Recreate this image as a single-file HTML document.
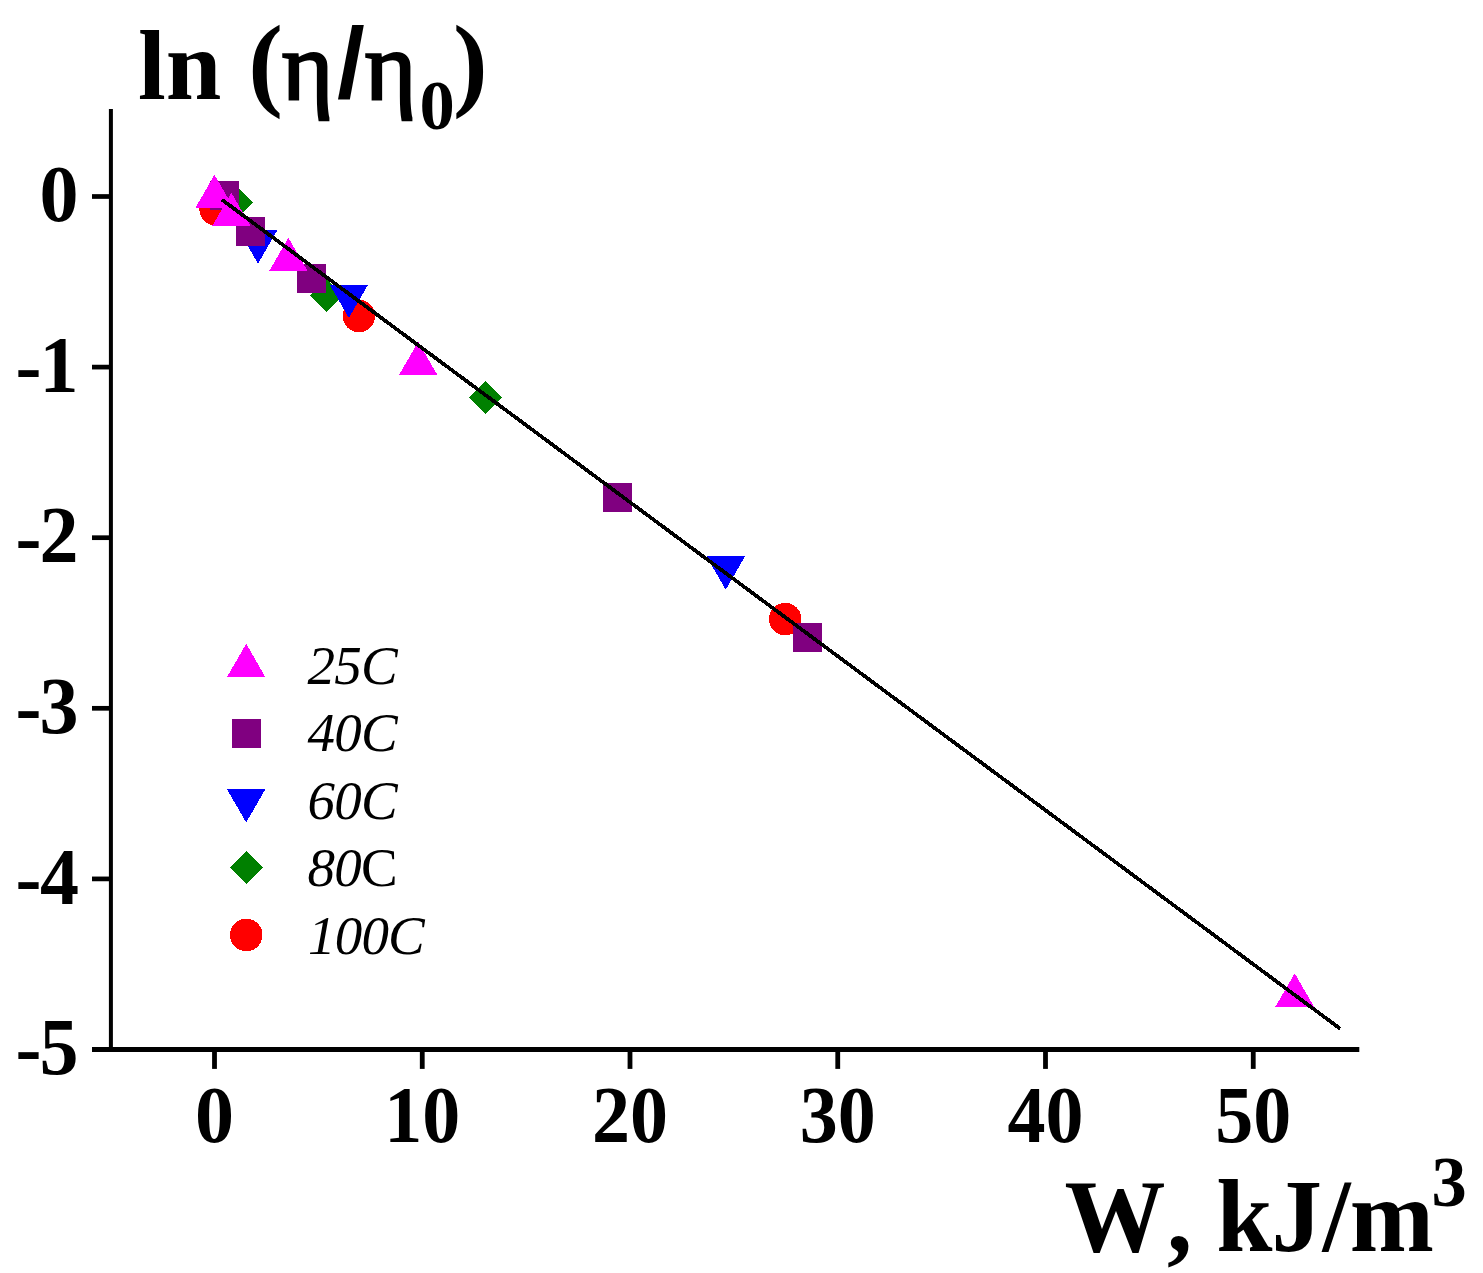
<!DOCTYPE html>
<html lang="en"><head><meta charset="utf-8"><title>ln(η/η0) vs W</title>
<style>
html,body{margin:0;padding:0;background:#fff;}
body{width:1483px;height:1273px;overflow:hidden;}
svg{display:block;}
text{font-family:"Liberation Serif","Times New Roman",serif;fill:#000;font-kerning:none;}
.b{font-weight:bold;}
.i{font-style:italic;}
</style></head><body>
<svg width="1483" height="1273" viewBox="0 0 1483 1273">
<rect width="1483" height="1273" fill="#fff"/>

<g fill="#000">
<rect x="108.9" y="109" width="4" height="942"/>
<rect x="92" y="1047" width="1267.3" height="5"/>
<rect x="92" y="194.15" width="18" height="4.7"/>
<rect x="92" y="364.75" width="18" height="4.7"/>
<rect x="92" y="535.35" width="18" height="4.7"/>
<rect x="92" y="705.95" width="18" height="4.7"/>
<rect x="92" y="876.55" width="18" height="4.7"/>
<rect x="212.10" y="1050" width="4.8" height="18.9"/>
<rect x="419.85" y="1050" width="4.8" height="18.9"/>
<rect x="627.60" y="1050" width="4.8" height="18.9"/>
<rect x="835.35" y="1050" width="4.8" height="18.9"/>
<rect x="1043.10" y="1050" width="4.8" height="18.9"/>
<rect x="1250.85" y="1050" width="4.8" height="18.9"/>
</g>
<g shape-rendering="crispEdges">
<circle cx="215.60" cy="209.30" r="16.25" fill="#ff0000"/>
<circle cx="358.90" cy="316.00" r="16.25" fill="#ff0000"/>
<circle cx="785.25" cy="619.10" r="16.25" fill="#ff0000"/>
<polygon points="236.50,185.90 253.00,202.40 236.50,218.90 220.00,202.40" fill="#008000"/>
<polygon points="326.50,278.70 343.00,295.20 326.50,311.70 310.00,295.20" fill="#008000"/>
<polygon points="485.60,381.00 502.10,397.50 485.60,414.00 469.10,397.50" fill="#008000"/>
<polygon points="238.75,230.29 277.25,230.29 258.00,263.63" fill="#0000ff"/>
<polygon points="329.65,284.59 368.15,284.59 348.90,317.93" fill="#0000ff"/>
<polygon points="706.50,556.39 745.00,556.39 725.75,589.73" fill="#0000ff"/>
<rect x="209.70" y="180.90" width="29" height="29" fill="#800080"/>
<rect x="236.10" y="216.50" width="29" height="29" fill="#800080"/>
<rect x="296.90" y="263.90" width="29" height="29" fill="#800080"/>
<rect x="603.00" y="483.00" width="29" height="29" fill="#800080"/>
<rect x="793.00" y="623.00" width="29" height="29" fill="#800080"/>
<polygon points="214.50,174.77 233.75,208.11 195.25,208.11" fill="#ff00ff"/>
<polygon points="231.40,192.77 250.65,226.11 212.15,226.11" fill="#ff00ff"/>
<polygon points="288.40,237.77 307.65,271.11 269.15,271.11" fill="#ff00ff"/>
<polygon points="418.20,341.77 437.45,375.11 398.95,375.11" fill="#ff00ff"/>
<polygon points="1294.70,973.27 1313.95,1006.61 1275.45,1006.61" fill="#ff00ff"/>
<line x1="221.8" y1="199.6" x2="1340.2" y2="1028.7" stroke="#000" stroke-width="3.7"/>
<polygon points="246.20,643.77 265.45,677.11 226.95,677.11" fill="#ff00ff"/>
<rect x="232.10" y="719.00" width="29" height="29" fill="#800080"/>
<polygon points="226.95,789.14 265.45,789.14 246.20,822.48" fill="#0000ff"/>
<polygon points="246.50,851.25 263.00,867.75 246.50,884.25 230.00,867.75" fill="#008000"/>
<circle cx="246.25" cy="935.00" r="16.25" fill="#ff0000"/>
</g>
<text class="b" x="138" y="98.7" font-size="100">ln <tspan x="248.3" y="96.6" font-size="104">(</tspan><tspan x="282" y="99" font-size="98" font-weight="normal" stroke="#000" stroke-width="2.6">η</tspan><tspan x="337" y="98" font-size="100" font-family="Liberation Sans,Arial,sans-serif">/</tspan><tspan x="365" y="99" font-size="98" font-weight="normal" stroke="#000" stroke-width="2.6">η</tspan><tspan x="419.4" y="128.8" font-size="70.5">0</tspan><tspan x="452.9" y="96.6" font-size="104">)</tspan></text>
<text class="b" transform="translate(0,1251.3) scale(1,1.02)" y="0" font-size="101" x="1064.6 1166.9 1192 1216.2 1271.4 1322.6 1349.8">W, kJ/m<tspan x="1431.6" y="-44.8" font-size="70.5">3</tspan></text>
<text class="b" transform="translate(0,221.10) scale(1,1.03)" font-size="78" x="39.6" y="0">0</text>
<text class="b" transform="translate(0,391.70) scale(1,1.03)" font-size="78" x="15.4 39.6" y="1.3 0">-1</text>
<text class="b" transform="translate(0,562.30) scale(1,1.03)" font-size="78" x="15.4 39.6" y="1.3 0">-2</text>
<text class="b" transform="translate(0,732.90) scale(1,1.03)" font-size="78" x="15.4 39.6" y="1.3 0">-3</text>
<text class="b" transform="translate(0,903.50) scale(1,1.03)" font-size="78" x="15.4 39.9" y="1.3 0">-4</text>
<text class="b" transform="translate(0,1074.10) scale(1,1.03)" font-size="78" x="15.4 39.6" y="1.3 0">-5</text>
<text class="b" transform="translate(214.50,1141.7) scale(1,1.04)" font-size="78" text-anchor="middle">0</text>
<text class="b" transform="translate(422.25,1141.7) scale(0.975,1.04)" font-size="78" text-anchor="middle">10</text>
<text class="b" transform="translate(630.00,1141.7) scale(0.975,1.04)" font-size="78" text-anchor="middle">20</text>
<text class="b" transform="translate(837.75,1141.7) scale(0.975,1.04)" font-size="78" text-anchor="middle">30</text>
<text class="b" transform="translate(1045.50,1141.7) scale(0.975,1.04)" font-size="78" text-anchor="middle">40</text>
<text class="b" transform="translate(1253.25,1141.7) scale(0.975,1.04)" font-size="78" text-anchor="middle">50</text>
<text class="i" x="307.5" y="684.00" font-size="55" letter-spacing="-0.8">25C</text>
<text class="i" x="307.5" y="751.40" font-size="55" letter-spacing="-0.8">40C</text>
<text class="i" x="307.5" y="818.80" font-size="55" letter-spacing="-0.8">60C</text>
<text x="307.5" y="886.20" font-size="55" letter-spacing="-0.8"><tspan class="i">80</tspan>C</text>
<text class="i" x="308" y="953.60" font-size="55" letter-spacing="-0.8">100C</text>
</svg></body></html>
